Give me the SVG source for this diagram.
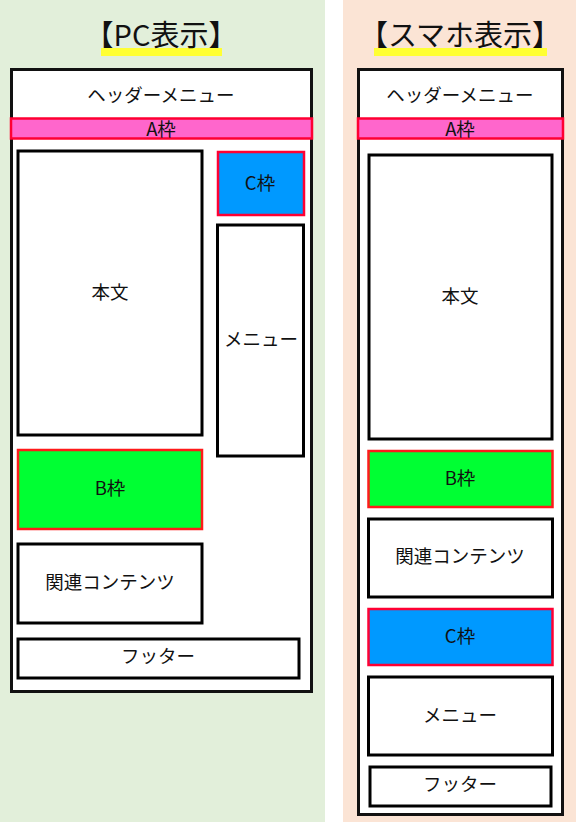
<svg xmlns="http://www.w3.org/2000/svg" width="576" height="822" viewBox="0 0 576 822">
<style>
text{font-family:"Noto Sans CJK JP","Noto Sans",sans-serif;fill:#111;text-anchor:middle;dominant-baseline:central}
.lbl{font-size:18.5px}
.title{font-size:29px}
.frame{fill:#fff;stroke:#111;stroke-width:3}
.box{fill:#fff;stroke:#000;stroke-width:3}
.a{fill:#ff66cc;stroke:#ff0033;stroke-width:2.5}
.b{fill:#00ff33;stroke:#ff1a1a;stroke-width:2.5}
.c{fill:#0099ff;stroke:#ff0033;stroke-width:2.5}
.ul{fill:#ffff33}
</style>
<rect x="0" y="0" width="325" height="822" fill="#e2efda"/>
<rect x="343" y="0" width="233" height="822" fill="#fbe4d5"/>

<g id="pc">
  <g id="pc-title"><rect class="ul" x="101" y="48" width="121" height="8"/><text class="title" x="161" y="33">【PC表示】</text></g>
  <g id="pc-frame"><rect class="frame" x="11.5" y="69.5" width="300" height="622"/><text class="lbl" x="161" y="94">ヘッダーメニュー</text></g>
  <g id="pc-a"><rect class="a" x="11" y="118.5" width="301" height="20"/><text class="lbl" x="161" y="128">A枠</text></g>
  <g id="pc-honbun"><rect class="box" x="18" y="151" width="184" height="284"/><text class="lbl" x="110" y="291">本文</text></g>
  <g id="pc-c"><rect class="c" x="218" y="152" width="86" height="63"/><text class="lbl" x="260" y="182">C枠</text></g>
  <g id="pc-menu"><rect class="box" x="217.5" y="225" width="86" height="231"/><text class="lbl" x="261" y="338">メニュー</text></g>
  <g id="pc-b"><rect class="b" x="18" y="450" width="184" height="79"/><text class="lbl" x="110" y="487">B枠</text></g>
  <g id="pc-kanren"><rect class="box" x="18" y="544" width="184" height="79"/><text class="lbl" x="110" y="581">関連コンテンツ</text></g>
  <g id="pc-footer"><rect class="box" x="18" y="639" width="281" height="39"/><text class="lbl" x="158" y="655">フッター</text></g>
</g>

<g id="sp">
  <g id="sp-title"><rect class="ul" x="374" y="48" width="173" height="8"/><text class="title" x="460" y="33">【スマホ表示】</text></g>
  <g id="sp-frame"><rect class="frame" x="358.5" y="69.5" width="204" height="745"/><text class="lbl" x="460" y="94">ヘッダーメニュー</text></g>
  <g id="sp-a"><rect class="a" x="358" y="118.5" width="205" height="20"/><text class="lbl" x="460" y="128">A枠</text></g>
  <g id="sp-honbun"><rect class="box" x="369" y="155" width="183" height="284"/><text class="lbl" x="460" y="295">本文</text></g>
  <g id="sp-b"><rect class="b" x="368.5" y="451" width="184" height="56"/><text class="lbl" x="460" y="477">B枠</text></g>
  <g id="sp-kanren"><rect class="box" x="368.5" y="519" width="184" height="78"/><text class="lbl" x="460" y="555">関連コンテンツ</text></g>
  <g id="sp-c"><rect class="c" x="368.5" y="609" width="184" height="56"/><text class="lbl" x="460" y="635">C枠</text></g>
  <g id="sp-menu"><rect class="box" x="368.5" y="677" width="184" height="78"/><text class="lbl" x="460" y="714">メニュー</text></g>
  <g id="sp-footer"><rect class="box" x="370" y="767" width="181" height="39"/><text class="lbl" x="460" y="783">フッター</text></g>
</g>
<g id="connectors"/>
</svg>
